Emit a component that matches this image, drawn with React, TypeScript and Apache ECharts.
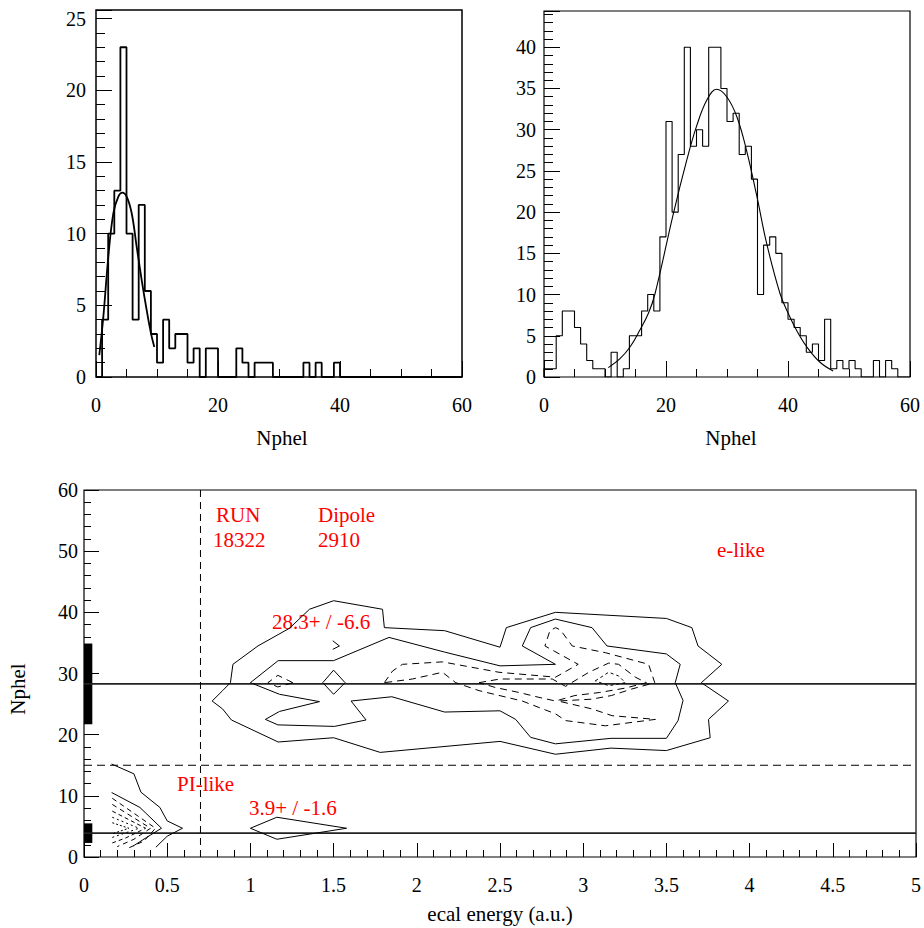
import React, { useEffect, useRef } from "react";
import * as echarts from "echarts";

const FONT = '"Liberation Serif", "Times New Roman", serif';

// ---------- Top-left: Nphel, PI-like sample (bin width 1, 0..60) ----------
const piCounts = [
  0, 4, 10, 13, 23, 10, 4, 12, 6, 3,
  1, 4, 2, 3, 3, 1, 2, 0, 2, 2,
  0, 0, 0, 2, 1, 0, 1, 1, 1, 0,
  0, 0, 0, 0, 1, 0, 1, 0, 0, 1,
  0, 0, 0, 0, 0, 0, 0, 0, 0, 0,
  0, 0, 0, 0, 0, 0, 0, 0, 0, 0,
];
const piFitX = [0.54, 1.2, 2.02, 2.84, 3.66, 4.31, 5.03, 5.85, 6.67, 7.49, 8.31, 9.02, 9.56];
const piFitY = [1.52, 4.19, 8.39, 11.42, 12.58, 12.86, 12.58, 11.42, 9.08, 6.76, 4.66, 3.03, 2.1];

// ---------- Top-right: Nphel, e-like sample ----------
const eCounts = [
  1, 1, 5, 8, 8, 6, 4, 2, 1, 1,
  0, 3, 0, 1, 5, 5, 8, 10, 8, 17,
  31, 20, 27, 40, 28, 30, 28, 40, 40, 35,
  31, 32, 27, 28, 24, 10, 16, 17, 15, 9,
  7, 6, 5, 3, 4, 2, 7, 1, 2, 1,
  2, 1, 0, 0, 2, 0, 2, 1, 0, 0,
];
const eFitX = [10.54, 12.46, 14.1, 15.7, 17.1, 18.2, 21.2, 23.4, 25.0, 26.7, 28.3, 29.95, 31.6, 33.2, 34.9, 36.5, 38.7, 40.05, 41.4, 43.1, 45.2, 47.4];
const eFitY = [1.14, 2.23, 3.64, 5.67, 7.7, 10.1, 19.8, 26.3, 30.4, 33.6, 34.9, 34.0, 31.6, 27.5, 21.9, 16.2, 10.1, 7.7, 5.67, 3.64, 1.82, 0.73];

// ---------- Bottom: Nphel vs ecal energy contours ----------
const eMean = 28.3;
const eSigma = 6.6;
const piMean = 3.9;
const piSigma = 1.6;
const piCutNphel = 15;
const ecalCut = 0.7;
const runNumber = "18322";
const dipoleCurrent = "2910";

const contourOuter = [
  [0.77, 25.5], [0.833, 27.2], [0.88, 28.5], [0.895, 31.5], [1.045, 34.5], [1.235, 37.4],
  [1.355, 40.5], [1.5, 41.9], [1.794, 40.5], [1.805, 37.5], [2.167, 37.0], [2.5, 34.3],
  [2.538, 37.5], [2.833, 40.0], [3.5, 39.0], [3.653, 37.5], [3.69, 34.5], [3.833, 31.5],
  [3.71, 28.5], [3.873, 25.5], [3.753, 22.5], [3.763, 19.5], [3.5, 17.4], [3.167, 17.8],
  [2.833, 16.8], [2.5, 18.9], [1.78, 17.1], [1.5, 19.5], [1.167, 18.8], [0.886, 22.4],
  [0.833, 24.2], [0.77, 25.5],
];
const contourInner = [
  [1.0, 28.5], [1.167, 32.1], [1.5, 32.1], [1.833, 35.9], [2.167, 33.5], [2.5, 31.25],
  [2.833, 31.5], [2.634, 34.5], [2.684, 37.5], [2.833, 38.9], [3.053, 37.5], [3.143, 34.5],
  [3.5, 33.2], [3.583, 31.5], [3.553, 28.5], [3.6, 25.6], [3.57, 22.3], [3.5, 19.4],
  [3.167, 19.4], [2.833, 18.5], [2.684, 19.56], [2.594, 22.5], [2.5, 23.9], [2.167, 23.7],
  [1.85, 26.2], [1.605, 25.5], [1.695, 22.4], [1.505, 21.35], [1.165, 21.6], [1.09, 22.5],
  [1.175, 23.8], [1.415, 25.4], [1.175, 26.6], [1.0, 28.5],
];
const contourDiamond = [[1.435, 28.5], [1.5, 30.55], [1.569, 28.5], [1.5, 26.6], [1.435, 28.5]];
const contourChevron = [[1.495, 35.35], [1.535, 34.5], [1.495, 33.95]];
const dashLoopLeft = [[1.255, 28.5], [1.165, 29.7], [1.105, 28.5], [1.165, 27.8], [1.255, 28.5]];
const dashOuter = [
  [1.805, 28.5], [1.854, 30.4], [1.914, 31.5], [2.154, 31.9], [2.494, 30.2], [2.834, 29.4],
  [2.97, 31.5], [2.77, 34.5], [2.8, 37.0], [2.834, 37.5], [2.864, 37.1], [2.934, 34.5],
  [3.134, 33.4], [3.393, 31.5], [3.43, 28.5], [3.29, 27.45], [3.17, 26.4], [3.05, 25.8],
  [2.85, 25.5], [3.054, 24.2], [3.174, 23.1], [3.434, 22.5], [3.134, 21.45], [2.894, 22.3],
  [2.834, 23.4], [2.634, 25.5], [2.374, 27.2], [2.234, 28.5], [2.154, 30.2], [1.974, 29.1],
  [1.805, 28.5],
];
const dashInner = [
  [2.374, 28.5], [2.5, 29.1], [2.814, 29.1], [2.894, 27.9], [3.034, 30.2], [3.153, 31.7],
  [3.213, 31.5], [3.313, 29.4], [3.38, 28.5], [3.25, 27.6], [3.1, 26.9], [2.95, 26.4],
  [2.834, 25.5], [2.734, 26.1], [2.614, 26.9], [2.474, 27.7], [2.374, 28.5],
];
const dotInner = [[3.073, 28.8], [3.153, 30.2], [3.213, 29.6], [3.253, 28.5], [3.153, 28.0], [3.073, 28.8]];

const lowOuter = [[0.166, 15.2], [0.3, 13.6], [0.342, 10.6], [0.456, 8.1], [0.5, 5.9], [0.592, 4.7], [0.5, 3.4], [0.432, 1.6]];
const lowInner = [[0.166, 10.55], [0.336, 8.1], [0.466, 4.7], [0.376, 3.2], [0.296, 1.8]];
const lowDash1 = [[0.17, 9.6], [0.43, 4.7], [0.36, 2.6], [0.27, 1.5]];
const lowDash2 = [[0.17, 8.6], [0.4, 4.7], [0.3, 2.9], [0.2, 1.7]];
const lowDash3 = [[0.17, 7.5], [0.37, 4.7], [0.25, 3.1], [0.17, 2.3]];
const lowDot1 = [[0.17, 6.5], [0.33, 4.7], [0.17, 3.2]];
const lowDot2 = [[0.17, 5.6], [0.27, 4.7], [0.17, 3.8]];
const lowDiamond = [[1.0, 4.7], [1.159, 6.5], [1.578, 4.7], [1.159, 2.9], [1.0, 4.7]];

// ---------- helpers ----------
const stepPoints = (counts: number[]) => {
  const pts: number[][] = [[0, 0]];
  counts.forEach((c, i) => {
    pts.push([i, c], [i + 1, c]);
  });
  pts.push([counts.length, 0]);
  return pts;
};
const zip = (xs: number[], ys: number[]) => xs.map((x, i) => [x, ys[i]]);

const isMultiple = (v: number, step: number) => Math.abs(v / step - Math.round(v / step)) < 1e-6;

function axisPair(
  dim: "x" | "y",
  gridIndex: number,
  min: number,
  max: number,
  major: number,
  minor: number,
  majorLen: number,
  minorLen: number,
  margin: number
) {
  const common = {
    type: "value",
    gridIndex,
    min,
    max,
    position: dim === "x" ? "bottom" : "left",
    axisLine: { show: false },
    splitLine: { show: false },
    minorTick: { show: false },
  };
  return [
    {
      ...common,
      interval: major,
      axisTick: { show: true, inside: true, length: majorLen, lineStyle: { color: "#000", width: 1 } },
      axisLabel: {
        show: true,
        margin,
        color: "#000",
        fontFamily: FONT,
        fontSize: 20,
        formatter: (v: number) => (isMultiple(v, major) ? String(Math.round(v * 1000) / 1000) : ""),
      },
    },
    {
      ...common,
      interval: minor,
      axisTick: { show: true, inside: true, length: minorLen, lineStyle: { color: "#000", width: 1 } },
      axisLabel: { show: false },
    },
  ];
}

const line = (xi: number, data: number[][], width: number, type: any = "solid", extra: any = {}) => ({
  type: "line",
  xAxisIndex: xi,
  yAxisIndex: xi,
  data,
  symbol: "none",
  showSymbol: false,
  silent: true,
  lineStyle: { color: "#000", width, type },
  ...extra,
});

const redText = (text: string, x: number, y: number) => ({
  type: "text",
  x,
  y,
  style: {
    text,
    fill: "#ff0000",
    fontFamily: FONT,
    fontSize: 21,
    textAlign: "left",
    align: "left",
    textVerticalAlign: "middle",
    verticalAlign: "middle",
  },
});
const blackText = (text: string, x: number, y: number, rotation = 0) => ({
  type: "text",
  x,
  y,
  rotation,
  style: {
    text,
    fill: "#000",
    fontFamily: FONT,
    fontSize: 21,
    textAlign: "center",
    align: "center",
    textVerticalAlign: "middle",
    verticalAlign: "middle",
  },
});

export default function App() {
  const ref = useRef<HTMLDivElement>(null);

  useEffect(() => {
    if (!ref.current) return;
    const chart = echarts.init(ref.current, undefined, { renderer: "svg" });

    const dash = [7, 5];
    const option: any = {
      animation: false,
      backgroundColor: "#fff",
      grid: [
        { left: 96, top: 10, width: 366, height: 367, show: true, borderColor: "#000", borderWidth: 1.5, backgroundColor: "transparent" },
        { left: 544, top: 11, width: 366, height: 366, show: true, borderColor: "#000", borderWidth: 1.2, backgroundColor: "transparent" },
        { left: 84, top: 490, width: 834, height: 367, show: true, borderColor: "#000", borderWidth: 1.2, backgroundColor: "transparent" },
      ],
      xAxis: [
        ...axisPair("x", 0, 0, 60, 20, 5, 16, 8, 18),
        ...axisPair("x", 1, 0, 60, 20, 5, 16, 8, 18),
        ...axisPair("x", 2, 0, 5, 0.5, 0.1, 14, 7, 18),
      ],
      yAxis: [
        ...axisPair("y", 0, 0, 25.6, 5, 1, 16, 9, 10),
        ...axisPair("y", 1, 0, 44.4, 5, 1, 16, 9, 8),
        ...axisPair("y", 2, 0, 60, 10, 2, 15, 7, 6),
      ],
      series: [
        // top-left
        line(0, stepPoints(piCounts), 1.8),
        line(0, zip(piFitX, piFitY), 1.8, "solid", { smooth: 0.4 }),
        // top-right
        line(2, stepPoints(eCounts), 1.1),
        line(2, zip(eFitX, eFitY), 1.1, "solid", { smooth: 0.4 }),
        // bottom: reference lines
        line(4, [[0, eMean], [5, eMean]], 1.6, "solid", {
          lineStyle: { color: "#222", width: 1.6 },
          markArea: {
            silent: true,
            itemStyle: { color: "#000", opacity: 1 },
            data: [
              [{ coord: [0, eMean - eSigma] }, { coord: [0.05, eMean + eSigma] }],
              [{ coord: [0, piMean - piSigma] }, { coord: [0.05, piMean + piSigma] }],
            ],
          },
        }),
        line(4, [[0, piMean], [5, piMean]], 1.6, "solid", { lineStyle: { color: "#222", width: 1.6 } }),
        line(4, [[0, piCutNphel], [5, piCutNphel]], 1, [8, 5]),
        line(4, [[ecalCut, 0], [ecalCut, 60]], 1, [7, 5]),
        // contours
        line(4, contourOuter, 1),
        line(4, contourInner, 1),
        line(4, contourDiamond, 1),
        line(4, contourChevron, 1),
        line(4, dashLoopLeft, 1, dash),
        line(4, dashOuter, 1, dash),
        line(4, dashInner, 1, dash),
        line(4, dotInner, 1, [3, 3]),
        line(4, lowOuter, 1),
        line(4, lowInner, 1),
        line(4, lowDash1, 1, [5, 4]),
        line(4, lowDash2, 1, [5, 4]),
        line(4, lowDash3, 1, [4, 3]),
        line(4, lowDot1, 1, [2, 3]),
        line(4, lowDot2, 1, [2, 2]),
        line(4, lowDiamond, 1),
      ],
      graphic: {
        elements: [
          blackText("Nphel", 282, 438),
          blackText("Nphel", 731, 438),
          blackText("ecal energy (a.u.)", 500, 914),
          blackText("Nphel", 18, 689, Math.PI / 2),
          redText("RUN", 216, 515),
          redText(runNumber, 213, 540),
          redText("Dipole", 318, 515),
          redText(dipoleCurrent, 318, 540),
          redText("e-like", 717, 550),
          redText(`${eMean}+ / -${eSigma}`, 272, 622),
          redText("PI-like", 177, 784),
          redText(`${piMean}+ / -${piSigma}`, 249, 808),
        ],
      },
    };

    chart.setOption(option);
    return () => chart.dispose();
  }, []);

  return <div ref={ref} style={{ width: 924, height: 928, position: "absolute", left: 0, top: 0 }} />;
}
